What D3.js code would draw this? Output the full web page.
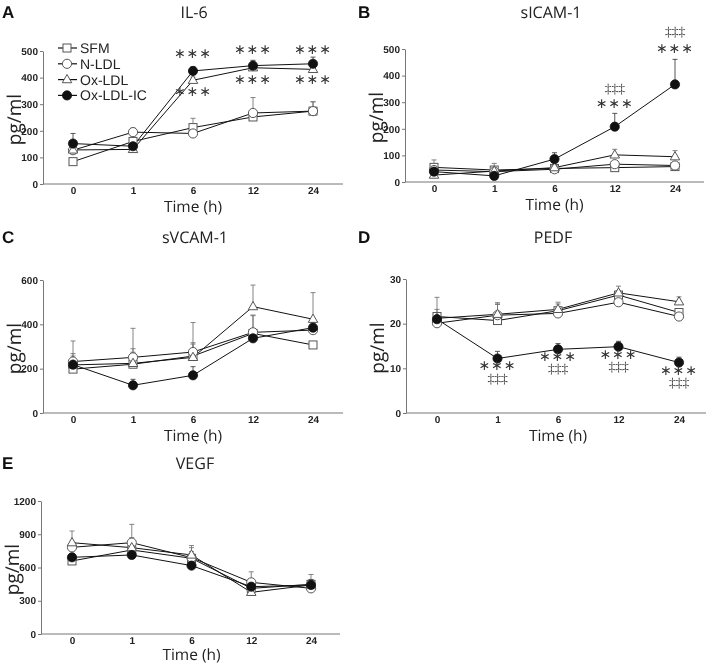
<!DOCTYPE html>
<html><head><meta charset="utf-8">
<script src="https://cdn.jsdelivr.net/npm/d3@7"></script>
<style>
body{margin:0;background:#fff;}
svg{display:block;will-change:transform;}
text{text-rendering:geometricPrecision;}
</style></head>
<body><svg id="c" width="713" height="664"></svg>
<script>
const times = ["0","1","6","12","24"];
const seriesNames = ["SFM","N-LDL","Ox-LDL","Ox-LDL-IC"];

// IL-6
const il6SFM  = [84, 160, 212, 252, 274];
const il6NLDL = [127, 195, 190, 267, 274];
const il6Ox   = [128, 130, 390, 437, 431];
const il6IC   = [152, 142, 425, 445, 452];
const il6ErrSFM  = [5, 20, 35, 10, 35];
const il6ErrNLDL = [10, 15, 8, 58, 35];
const il6ErrOx   = [8, 8, 12, 8, 8];
const il6ErrIC   = [38, 8, 15, 20, 25];

// sICAM-1
const icamSFM  = [55, 45, 51, 54, 58];
const icamNLDL = [45, 39, 48, 67, 62];
const icamOx   = [26, 41, 54, 102, 95];
const icamIC   = [39, 23, 86, 208, 367];
const icamErrSFM  = [28, 25, 8, 6, 6];
const icamErrNLDL = [10, 10, 6, 8, 6];
const icamErrOx   = [10, 10, 8, 21, 23];
const icamErrIC   = [10, 6, 24, 50, 94];

// sVCAM-1
const vcamSFM  = [198, 220, 257, 359, 307];
const vcamNLDL = [232, 251, 275, 364, 374];
const vcamOx   = [217, 224, 251, 480, 423];
const vcamIC   = [218, 125, 170, 337, 385];
const vcamErrSFM  = [70, 70, 60, 80, 12];
const vcamErrNLDL = [93, 131, 133, 78, 20];
const vcamErrOx   = [40, 50, 60, 97, 120];
const vcamErrIC   = [20, 27, 39, 20, 15];

// PEDF
const pedfSFM  = [21.6, 20.7, 22.9, 26.4, 22.5];
const pedfNLDL = [20.1, 21.9, 22.3, 24.8, 21.6];
const pedfOx   = [21.2, 22.1, 23.2, 26.9, 24.9];
const pedfIC   = [21.0, 12.2, 14.25, 14.85, 11.3];
const pedfErrSFM  = [4.3, 4.0, 1.5, 1.0, 0.6];
const pedfErrNLDL = [1.5, 2.5, 1.0, 1.0, 0.5];
const pedfErrOx   = [2.0, 2.2, 1.6, 1.5, 1.1];
const pedfErrIC   = [0.5, 1.6, 1.3, 1.2, 1.2];

// VEGF
const vegfSFM  = [659, 758, 683, 412, 448];
const vegfNLDL = [782, 824, 689, 466, 412];
const vegfOx   = [824, 779, 713, 376, 442];
const vegfIC   = [692, 713, 617, 427, 442];
const vegfErrSFM  = [30, 60, 60, 40, 40];
const vegfErrNLDL = [40, 165, 90, 95, 60];
const vegfErrOx   = [105, 90, 85, 60, 95];
const vegfErrIC   = [30, 30, 40, 40, 50];

// tick values
const il6Ticks  = [0,100,200,300,400,500];
const icamTicks = [0,100,200,300,400,500];
const vcamTicks = [0,200,400,600];
const pedfTicks = [0,10,20,30];
const vegfTicks = [0,300,600,900,1200];

const STAR = "\u2217\u2217\u2217";
const DAG  = "\u2021\u2021\u2021";

// annotations: [time index, value, text]
const il6Ann = [[2,488,STAR],[3,503,STAR],[4,503,STAR],[2,345,STAR],[3,392,STAR],[4,392,STAR]];
const icamAnn = [[3,352,DAG],[3,295,STAR],[4,565,DAG],[4,500,STAR]];
const pedfAnn = [[1,10.5,STAR],[1,7.8,DAG],[2,12.6,STAR],[2,9.9,DAG],[3,12.9,STAR],[3,10.3,DAG],[4,9.5,STAR],[4,6.8,DAG]];

const svg = d3.select("#c");
const SANS = "'Open Sans', sans-serif";
const ARIAL = "'Liberation Sans', Arial, sans-serif";

function drawMarker(g, type, cx, cy){
  if(type===0){
    g.append("rect").attr("x",cx-4).attr("y",cy-4).attr("width",8).attr("height",8)
      .attr("fill","#fff").attr("stroke","#555").attr("stroke-width",1);
  } else if(type===1){
    g.append("circle").attr("cx",cx).attr("cy",cy).attr("r",4.6)
      .attr("fill","#fff").attr("stroke","#555").attr("stroke-width",1);
  } else if(type===2){
    const s=9.5, h=s*0.87;
    g.append("path").attr("d",`M${cx},${cy-h*0.62}L${cx+s/2},${cy+h*0.38}L${cx-s/2},${cy+h*0.38}Z`)
      .attr("fill","#fff").attr("stroke","#555").attr("stroke-width",1);
  } else {
    g.append("circle").attr("cx",cx).attr("cy",cy).attr("r",4.6)
      .attr("fill","#111").attr("stroke","#111").attr("stroke-width",0.8);
  }
}

function panel(c){
  const g = svg.append("g");
  const x = d3.scalePoint().domain(times).range(c.xr);
  const y = d3.scaleLinear().domain([0, c.yMax]).range([c.y0, c.yTop]);

  // y axis
  const ya = g.append("g").attr("transform",`translate(${c.yAxisX},0)`)
    .call(d3.axisLeft(y).tickValues(c.ticks).tickFormat(d3.format("d")).tickSize(3).tickPadding(2).tickSizeOuter(0));
  ya.select(".domain").attr("stroke","#777");
  ya.selectAll(".tick line").attr("stroke","#777");
  ya.selectAll(".tick text").attr("font-family",ARIAL).attr("font-weight","bold")
    .attr("font-size",10).attr("fill","#222");

  // x axis
  const xa = g.append("g").attr("transform",`translate(0,${c.y0})`)
    .call(d3.axisBottom(x).tickSize(0).tickPadding(3));
  xa.select(".domain").remove();
  xa.selectAll(".tick text").attr("font-family",ARIAL).attr("font-weight","bold")
    .attr("font-size",10).attr("fill","#222");
  g.append("line").attr("x1",c.yAxisX).attr("x2",c.xEnd).attr("y1",c.y0).attr("y2",c.y0)
    .attr("stroke","#777").attr("stroke-width",1);

  // error bars
  c.means.forEach((m,si)=>{
    m.forEach((v,i)=>{
      const e = c.errs[si][i];
      const cx = x(times[i]);
      g.append("line").attr("x1",cx).attr("x2",cx).attr("y1",y(v)).attr("y2",y(v+e))
        .attr("stroke",si===3?"#444":"#777").attr("stroke-width",0.9);
      g.append("line").attr("x1",cx-2.5).attr("x2",cx+2.5).attr("y1",y(v+e)).attr("y2",y(v+e))
        .attr("stroke",si===3?"#444":"#777").attr("stroke-width",0.9);
    });
  });
  // lines
  const line = d3.line().x((d,i)=>x(times[i])).y(d=>y(d));
  c.means.forEach((m,si)=>{
    g.append("path").attr("d",line(m)).attr("fill","none").attr("stroke","#111").attr("stroke-width",1);
  });
  // markers
  c.means.forEach((m,si)=>{
    m.forEach((v,i)=> drawMarker(g, si, x(times[i]), y(v)));
  });
  // annotations
  (c.ann||[]).forEach(a=>{
    const isStar = a[2]===STAR;
    g.append("text").attr("x",x(times[a[0]])).attr("y",y(a[1]))
      .attr("text-anchor","middle").attr("dominant-baseline","central")
      .attr("font-family",isStar?"'DejaVu Sans', sans-serif":"'Liberation Serif', serif")
      .attr("font-size",isStar?14:13.5).attr("letter-spacing",isStar?1:0)
      .attr("fill","#333").text(a[2]);
  });

  // titles
  g.append("text").attr("x",c.lx).attr("y",c.ly).attr("font-family",ARIAL).attr("font-weight","bold")
    .attr("font-size",17).attr("fill","#111").text(c.letter);
  g.append("text").attr("x",c.tx).attr("y",c.ly).attr("text-anchor","middle").attr("font-family",SANS)
    .attr("font-size",16).attr("fill","#222").text(c.title);
  g.append("text").attr("transform",`translate(${c.yAxisX-22},${(c.y0+c.yTop)/2+2}) rotate(-90)`)
    .attr("text-anchor","middle").attr("font-family",SANS).attr("font-size",19).attr("fill","#222").text("pg/ml");
  g.append("text").attr("x",(c.xr[0]+c.xr[1])/2).attr("y",Math.min(c.y0+27.5, 659.5)).attr("text-anchor","middle")
    .attr("font-family",SANS).attr("font-size",15.5).attr("fill","#222").text("Time (h)");
  return {g,x,y};
}

panel({letter:"A", title:"IL-6", lx:2, ly:18, tx:194, yAxisX:43, y0:184, yTop:51, yMax:500, ticks:il6Ticks,
  xr:[73,313], xEnd:343, means:[il6SFM,il6NLDL,il6Ox,il6IC], errs:[il6ErrSFM,il6ErrNLDL,il6ErrOx,il6ErrIC], ann:il6Ann});
panel({letter:"B", title:"sICAM-1", lx:358, ly:18, tx:551, yAxisX:405, y0:182, yTop:49, yMax:500, ticks:icamTicks,
  xr:[434,675], xEnd:704, means:[icamSFM,icamNLDL,icamOx,icamIC], errs:[icamErrSFM,icamErrNLDL,icamErrOx,icamErrIC], ann:icamAnn});
panel({letter:"C", title:"sVCAM-1", lx:2, ly:243, tx:195, yAxisX:43, y0:413, yTop:280, yMax:600, ticks:vcamTicks,
  xr:[73,313], xEnd:343, means:[vcamSFM,vcamNLDL,vcamOx,vcamIC], errs:[vcamErrSFM,vcamErrNLDL,vcamErrOx,vcamErrIC]});
panel({letter:"D", title:"PEDF", lx:358, ly:243, tx:553, yAxisX:406, y0:413, yTop:279, yMax:30, ticks:pedfTicks,
  xr:[437,679], xEnd:706, means:[pedfSFM,pedfNLDL,pedfOx,pedfIC], errs:[pedfErrSFM,pedfErrNLDL,pedfErrOx,pedfErrIC], ann:pedfAnn});
panel({letter:"E", title:"VEGF", lx:2, ly:469, tx:195, yAxisX:41, y0:634, yTop:501, yMax:1200, ticks:vegfTicks,
  xr:[72,311], xEnd:340, means:[vegfSFM,vegfNLDL,vegfOx,vegfIC], errs:[vegfErrSFM,vegfErrNLDL,vegfErrOx,vegfErrIC]});

// legend in panel A
const leg = svg.append("g");
seriesNames.forEach((n,i)=>{
  const ly = 48 + i*15.8;
  leg.append("line").attr("x1",58).attr("x2",77).attr("y1",ly).attr("y2",ly).attr("stroke","#111").attr("stroke-width",1.2);
  drawMarker(leg, i, 67, ly);
  leg.append("text").attr("x",80).attr("y",ly).attr("dominant-baseline","central")
    .attr("font-family",ARIAL).attr("font-size",14).attr("fill","#222").text(n);
});
</script></body></html>
